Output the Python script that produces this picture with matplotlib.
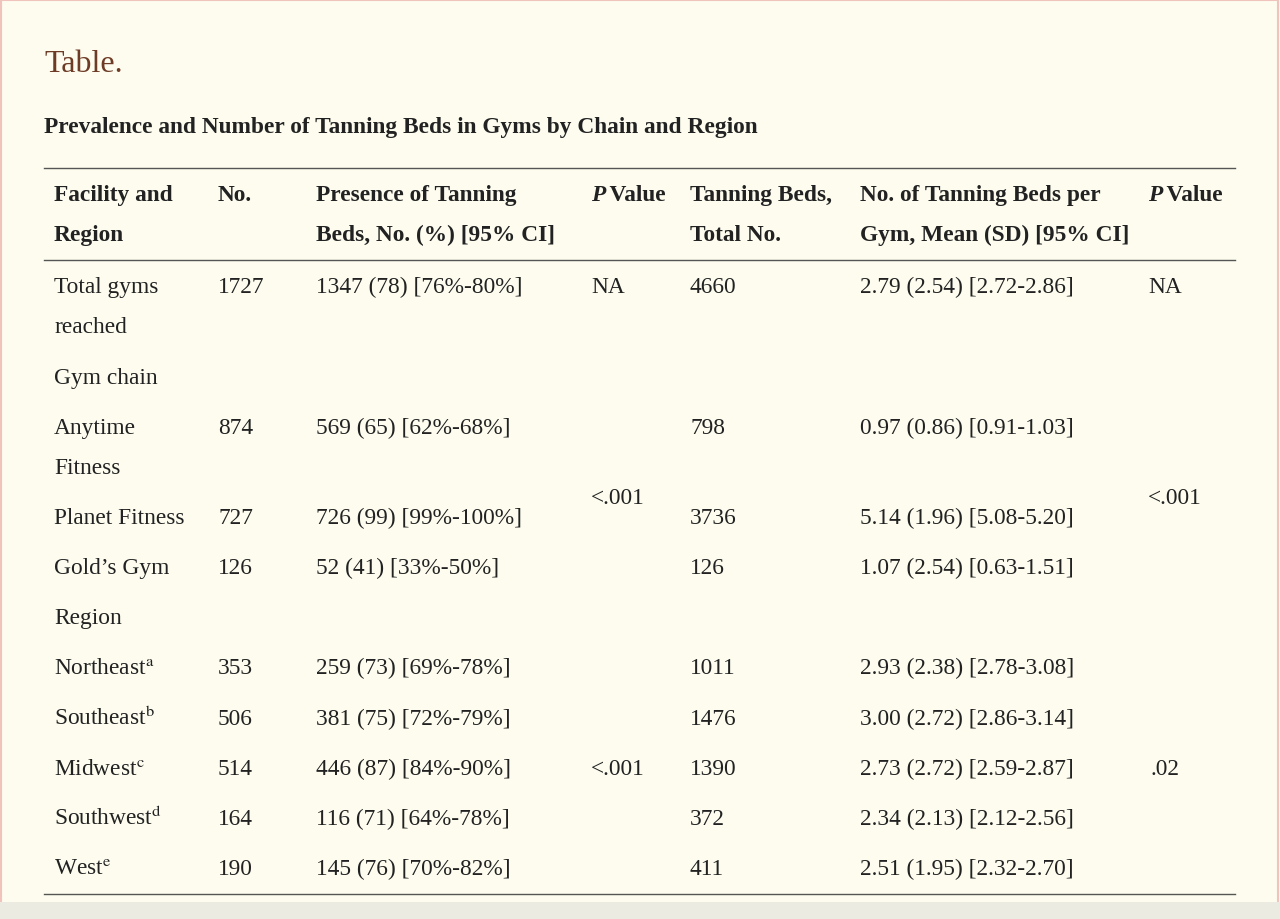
import matplotlib.pyplot as plt
from matplotlib.patches import Rectangle

plt.rcParams['font.family'] = ['Liberation Serif', 'DejaVu Serif']
plt.rcParams['mathtext.fontset'] = 'stix'

facility = ['Total gyms\nreached', 'Gym chain', 'Anytime\nFitness', 'Planet Fitness', "Gold\u2019s Gym", 'Region',
            'Northeast$^{\\mathrm{a}}$', 'Southeast$^{\\mathrm{b}}$', 'Midwest$^{\\mathrm{c}}$',
            'Southwest$^{\\mathrm{d}}$', 'West$^{\\mathrm{e}}$']
no = ['1727', '', '874', '727', '126', '', '353', '506', '514', '164', '190']
presence = ['1347 (78) [76%-80%]', '', '569 (65) [62%-68%]', '726 (99) [99%-100%]', '52 (41) [33%-50%]', '',
            '259 (73) [69%-78%]', '381 (75) [72%-79%]', '446 (87) [84%-90%]', '116 (71) [64%-78%]',
            '145 (76) [70%-82%]']
total_beds = ['4660', '', '798', '3736', '126', '', '1011', '1476', '1390', '372', '411']
mean_beds = ['2.79 (2.54) [2.72-2.86]', '', '0.97 (0.86) [0.91-1.03]', '5.14 (1.96) [5.08-5.20]',
             '1.07 (2.54) [0.63-1.51]', '', '2.93 (2.38) [2.78-3.08]', '3.00 (2.72) [2.86-3.14]',
             '2.73 (2.72) [2.59-2.87]', '2.34 (2.13) [2.12-2.56]', '2.51 (1.95) [2.32-2.70]']
row_y = [286, 377, 427, 517, 567, 617, 667, 718, 768, 818, 868]
col_x = [54, 218, 316, 690, 860]

FS = 16.8
ink = '#222222'

fig = plt.figure(figsize=(12.8, 9.2), dpi=100)
fig.patch.set_facecolor('#fdfcef')
ax = fig.add_axes([0, 0, 1, 1])
ax.set_xlim(0, 1280)
ax.set_ylim(920, 0)
ax.axis('off')
ax.add_patch(Rectangle((1, 1), 1277, 930, fill=False, edgecolor='#f0c4bc', lw=1.5))
ax.add_patch(Rectangle((0, 903), 1280, 20, color='#ecebe2', lw=0))


def put(x, y, s, **kw):
    # one text per line so every line sits on its own baseline
    for k, line in enumerate(s.split('\n')):
        if line:
            ax.text(x, y + 7 + 40 * k, line, fontsize=FS, color=ink, va='baseline', **kw)


ax.text(44, 72, 'Table.', fontsize=23, color='#6e3b26', va='baseline')
ax.text(44, 133, 'Prevalence and Number of Tanning Beds in Gyms by Chain and Region',
        fontsize=FS, weight='bold', color=ink, va='baseline')
for y in [169, 261, 895]:
    ax.plot([44, 1235], [y, y], color='#555555', lw=1)

hdr = [(54, 'Facility and\nRegion'), (218, 'No.'), (316, 'Presence of Tanning\nBeds, No. (%) [95% CI]'),
       (690, 'Tanning Beds,\nTotal No.'), (860, 'No. of Tanning Beds per\nGym, Mean (SD) [95% CI]')]
for x, t in hdr:
    put(x, 194, t, weight='bold')
for x in [591, 1148]:
    put(x, 194, 'P', weight='bold', style='italic')
    put(x + 13, 194, ' Value', weight='bold')

for i, y in enumerate(row_y):
    for x, col in zip(col_x, [facility, no, presence, total_beds, mean_beds]):
        put(x, y, col[i])

put(591, 286, 'NA')
put(1148, 286, 'NA')
put(591, 497, '<.001')
put(1148, 497, '<.001')
put(591, 768, '<.001')
put(1150, 768, '.02')

fig.savefig('out.png', dpi=100, facecolor=fig.get_facecolor())
